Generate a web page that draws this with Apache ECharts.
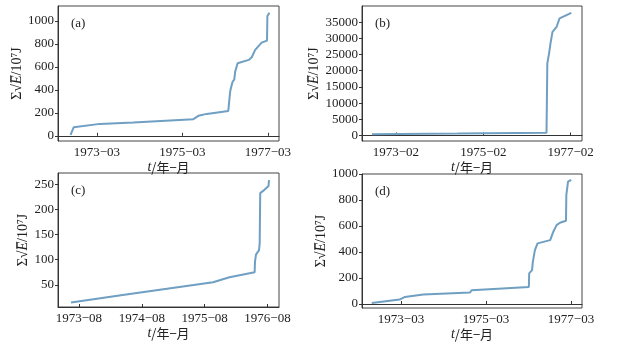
<!DOCTYPE html>
<html>
<head>
<meta charset="utf-8">
<script src="https://cdn.jsdelivr.net/npm/echarts@6/dist/echarts.min.js"></script>
<style>
html, body { margin: 0; padding: 0; background: #fff; }
#main { width: 636px; height: 342px; }
</style>
</head>
<body>
<div id="main"></div>
<script>
// (a)
var datesA = ['1972-07-20', '1972-08-17', '1973-03-28', '1974-01-08', '1975-06-03', '1975-07-16', '1975-09-27',
	'1976-03-28', '1976-04-08', '1976-04-12', '1976-04-16', '1976-04-26', '1976-05-04', '1976-05-18', '1976-05-26',
	'1976-06-05', '1976-06-16', '1976-09-20', '1976-10-15', '1976-11-14', '1977-01-08', '1977-02-24', '1977-02-27', '1977-03-14'];
var valuesA = [9, 75, 104, 116, 145, 174, 191, 217, 230, 371, 400, 410, 472, 490, 559, 575, 632, 661, 684, 748, 811, 829, 1043, 1072];
// (b)
var datesB = ['1972-07-15', '1974-07-01', '1976-07-12', '1976-07-19', '1976-08-03', '1976-08-15', '1976-09-01',
	'1976-10-05', '1976-10-30', '1977-02-06'];
var valuesB = [370, 580, 860, 22280, 25370, 28450, 32030, 33580, 36170, 37900];
// (c)
var datesC = ['1973-06-16', '1974-04-12', '1975-09-20', '1975-12-24', '1976-05-18', '1976-05-20', '1976-05-26',
	'1976-06-13', '1976-06-17', '1976-06-20', '1976-07-08', '1976-08-07', '1976-08-10'];
var valuesC = [15, 30, 55, 65, 75, 96, 110, 119, 133, 232, 237, 246, 258];
// (d)
var datesD = ['1972-06-24', '1973-02-20', '1973-04-05', '1973-09-10', '1974-10-16', '1974-10-30', '1976-03-04',
	'1976-03-07', '1976-04-01', '1976-04-08', '1976-04-26', '1976-05-18', '1976-09-05', '1976-10-01', '1976-10-30',
	'1976-11-28', '1977-01-19', '1977-01-22', '1977-02-06', '1977-03-03'];
var valuesD = [8, 34, 54, 72, 88, 106, 131, 235, 260, 324, 414, 466, 491, 556, 607, 625, 640, 839, 941, 955];

var xTicksA = ['1973-03', '1975-03', '1977-03'];
var xTicksB = ['1973-02', '1975-02', '1977-02'];
var xTicksC = ['1973-08', '1974-08', '1975-08', '1976-08'];
var xTicksD = ['1973-03', '1975-03', '1977-03'];
var yTicksA = [0, 200, 400, 600, 800, 1000];
var yTicksB = [0, 5000, 10000, 15000, 20000, 25000, 30000, 35000];
var yTicksC = [50, 100, 150, 200, 250];
var yTicksD = [0, 200, 400, 600, 800, 1000];

var serif = 'Liberation Serif';
var lineColor = '#6f9fc2';
var axisColor = '#333';

// 月序号: 年*12 + 月-1 (+ 日的小数)
function toMonth(s) {
	var p = s.split('-').map(Number);
	return p[0] * 12 + p[1] - 1 + (p.length > 2 ? (p[2] - 1) / 31 : 0);
}
function monthLabel(v) {
	var m = Math.round(v);
	var mm = m % 12 + 1;
	return Math.floor(m / 12) + '\u2212' + (mm < 10 ? '0' + mm : mm);
}

var grids = [], xAxes = [], yAxes = [], series = [], titles = [];

function addPanel(tag, dates, values, xTicks, yTicks, box, xr, yr, nameGap) {
	var i = grids.length;
	grids.push({
		left: box[0], top: box[1], width: box[2], height: box[3],
		show: true, borderColor: '#444', borderWidth: 1, containLabel: false
	});
	xAxes.push({
		type: 'value', gridIndex: i, min: xr[0], max: xr[1],
		splitLine: { show: false },
		axisLine: { lineStyle: { color: axisColor } },
		axisTick: { inside: true, length: 3, lineStyle: { color: axisColor }, customValues: xTicks.map(toMonth) },
		axisLabel: {
			customValues: xTicks.map(toMonth), formatter: monthLabel, margin: 5,
			fontFamily: serif, fontSize: 13, color: '#222'
		},
		name: '{i|t}/年\u2212月', nameLocation: 'middle', nameGap: 14,
		nameTextStyle: {
			fontFamily: 'Noto Sans CJK SC', fontSize: 13, color: '#222',
			rich: { i: { fontFamily: serif, fontStyle: 'italic', fontSize: 14, color: '#222' } }
		}
	});
	yAxes.push({
		type: 'value', gridIndex: i, min: yr[0], max: yr[1],
		splitLine: { show: false },
		axisLine: { lineStyle: { color: axisColor } },
		axisTick: { length: 3, lineStyle: { color: axisColor }, customValues: yTicks },
		axisLabel: {
			customValues: yTicks, margin: 4, fontFamily: serif, fontSize: 13, color: '#222',
			formatter: function (v) { return String(v); }
		},
		name: '\u03a3\u221a{i|E\u0305}/10\u2077J', nameLocation: 'middle', nameGap: nameGap, nameRotate: 90,
		nameTextStyle: {
			fontFamily: serif, fontSize: 14, color: '#222',
			rich: { i: { fontFamily: serif, fontStyle: 'italic', fontSize: 14, color: '#222' } }
		}
	});
	series.push({
		type: 'line', xAxisIndex: i, yAxisIndex: i, showSymbol: false,
		lineStyle: { color: lineColor, width: 2 },
		data: dates.map(function (d, k) { return [toMonth(d), values[k]]; })
	});
	titles.push({
		text: '(' + tag + ')', left: box[0] + 8, top: box[1] + 6,
		textStyle: { fontFamily: serif, fontSize: 13, fontWeight: 'normal', color: '#222' }
	});
}

addPanel('a', datesA, valuesA, xTicksA, yTicksA, [58, 6, 221, 135], [23667.1, 23729.1], [-45, 1130], 28);
addPanel('b', datesB, valuesB, xTicksB, yTicksB, [362, 6, 220, 135], [23667.7, 23728.1], [-1700, 40000], 38);
addPanel('c', datesC, valuesC, xTicksC, yTicksC, [58, 173, 221, 134], [23679.0, 23721.2], [6, 272], 26);
addPanel('d', datesD, valuesD, xTicksD, yTicksD, [362, 174, 220, 134], [23667.0, 23729.1], [-31, 1000], 32);

var myChart = echarts.init(document.getElementById('main'), null, { renderer: 'canvas' });
myChart.setOption({
	animation: false,
	title: titles,
	grid: grids,
	xAxis: xAxes,
	yAxis: yAxes,
	series: series
});
</script>
</body>
</html>
